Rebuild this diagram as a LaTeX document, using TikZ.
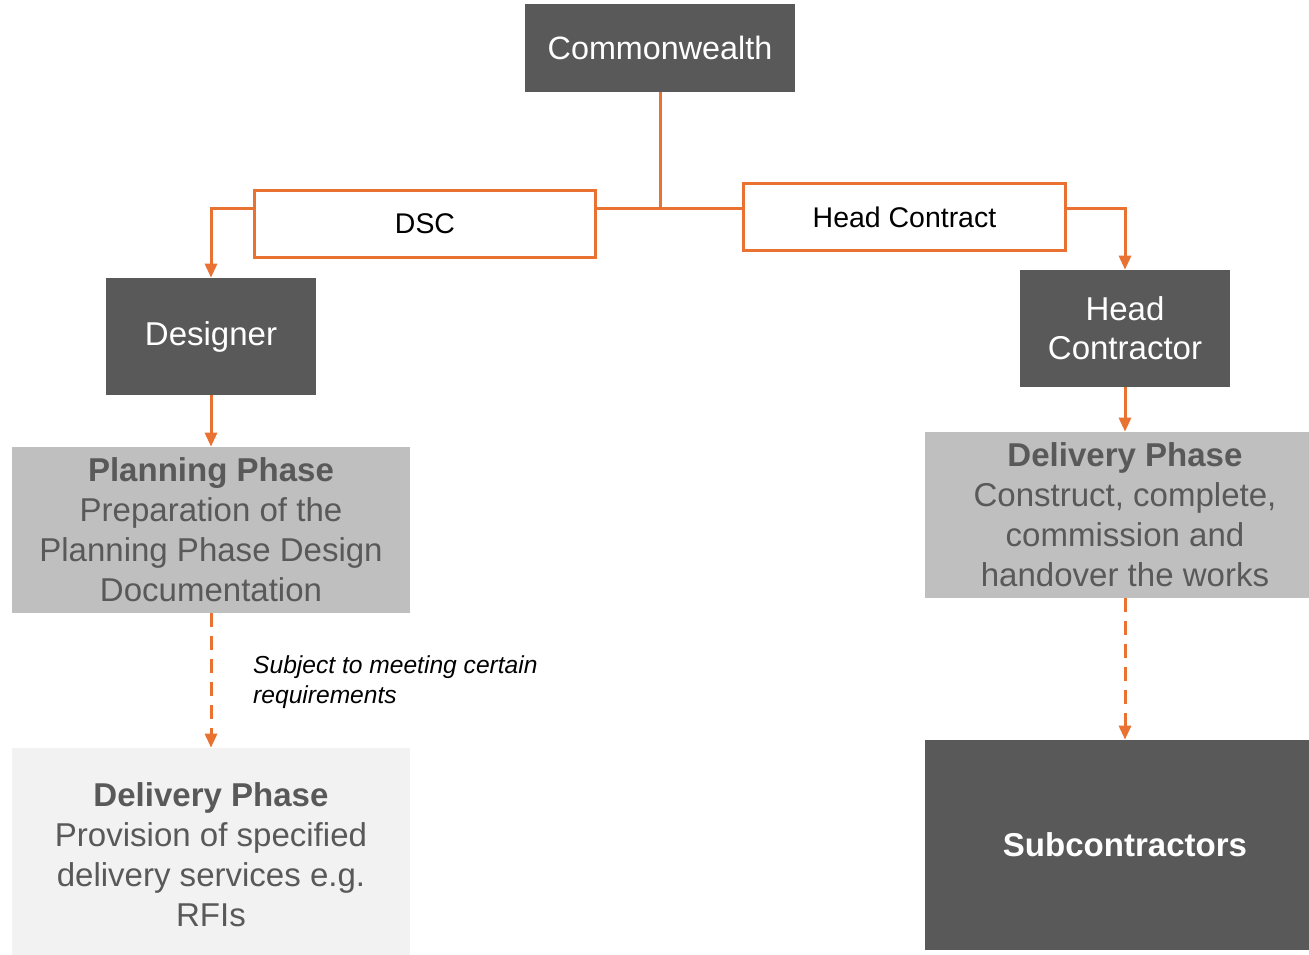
\documentclass[tikz,border=0pt]{standalone}
\usepackage{fontspec}
\setmainfont{Liberation Sans}
\usetikzlibrary{positioning,arrows.meta}

\definecolor{darkbox}{HTML}{595959}
\definecolor{midbox}{HTML}{BFBFBF}
\definecolor{lightbox}{HTML}{F2F2F2}
\definecolor{linkorange}{HTML}{E97132}

\tikzset{
  party/.style={rectangle, fill=darkbox, text=white, align=center, inner sep=0pt,
    font=\fontsize{18.8}{22.4}\selectfont},
  contract/.style={rectangle, draw=linkorange, line width=0.06cm, fill=white, text=black,
    inner sep=0pt, minimum height=1.34cm, font=\fontsize{16.2}{19}\selectfont},
  phase/.style={rectangle, text=darkbox, align=center, inner sep=0pt,
    font=\fontsize{18.8}{22.8}\selectfont},
  link/.style={linkorange, line width=0.06cm},
  dashlink/.style={linkorange, line width=0.06cm, dash pattern=on 0.28cm off 0.18cm}
}

\begin{document}
\begin{tikzpicture}[x=0.02cm, y=-0.02cm, >={Triangle[width=0.24cm,length=0.28cm]}]
\useasboundingbox (0,0) rectangle (1309,954);

% Top party and contracts
\path
(660,48)     node[party, minimum width=5.4cm, minimum height=1.76cm, font=\fontsize{18.4}{22}\selectfont] (cw) {Commonwealth}
(425,224)    node[contract, minimum width=6.82cm] (dsc) {DSC}
(904.5,217)  node[contract, minimum width=6.44cm] (hc) {Head Contract};
\coordinate (jn) at (660,208);

\draw[link] (cw.south) -- (jn);
\draw[link] (jn) -- (jn -| dsc.east);
\draw[link] (jn) -- (jn -| hc.west);
% end of top

% Designer side
\path
(211,336.5)  node[party, minimum width=4.22cm, minimum height=2.34cm] (designer) {Designer}
(211,530)    node[phase, fill=midbox, minimum width=7.96cm, minimum height=3.32cm] (plan) {\textbf{Planning Phase}\\Preparation of the\\Planning Phase Design\\Documentation}
(211,855)    node[phase, fill=lightbox, minimum width=7.96cm, minimum height=4.28cm] (deldes) {\textbf{Delivery Phase}\\Provision of specified\\delivery services e.g.\\RFIs}
(247,682)    node[anchor=west, align=left, font=\fontsize{14}{17.1}\selectfont\itshape] (cond) {Subject to meeting certain\\requirements};

\draw[->, link] (dsc.west |- jn) -| (designer.north);
\draw[->, link] (designer.south) -- (plan.north);
\draw[->, dashlink] (plan.south) -- (deldes.north);
% end of Designer side

% Head Contractor side
\path
(1125,328.5) node[party, minimum width=4.22cm, minimum height=2.34cm] (hcon) {Head\\Contractor}
(1125,515)   node[phase, fill=midbox, minimum width=8cm, minimum height=3.32cm] (delhc) {\textbf{Delivery Phase}\\Construct, complete,\\commission and\\handover the works}
(1125,845)   node[party, minimum width=8cm, minimum height=4.2cm, font=\fontsize{18.8}{22.8}\selectfont\bfseries] (sub) {Subcontractors};

\draw[->, link] (hc.east |- jn) -| (hcon.north);
\draw[->, link] (hcon.south) -- (delhc.north);
\draw[->, dashlink] (delhc.south) -- (sub.north);
% end of Head Contractor side

\end{tikzpicture}
\end{document}
